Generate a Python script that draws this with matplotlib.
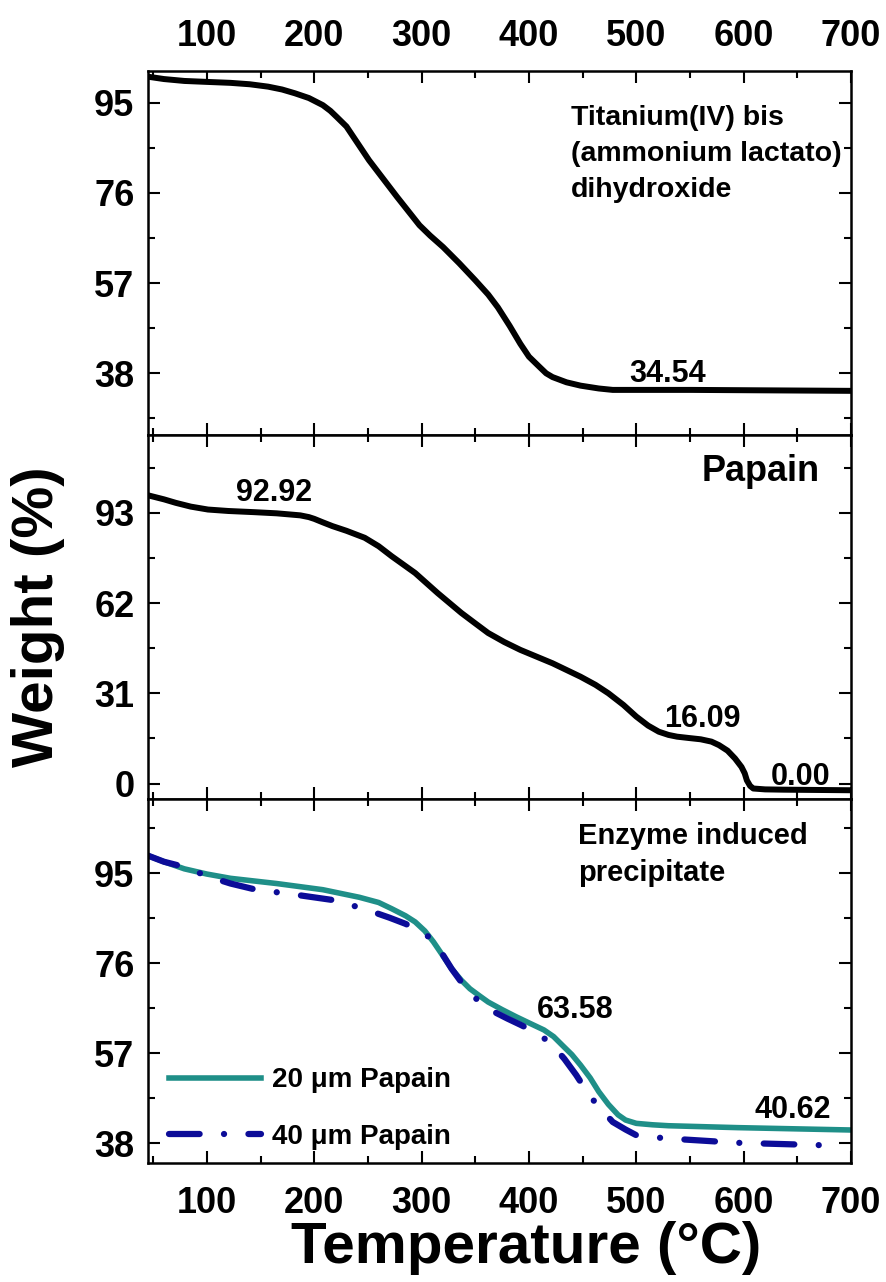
import matplotlib
matplotlib.use('Agg')
import matplotlib.pyplot as plt
from matplotlib.ticker import MultipleLocator, AutoMinorLocator

plt.rcParams['font.family'] = ['Liberation Sans', 'DejaVu Sans']
plt.rcParams['font.weight'] = 'bold'

# Titanium(IV) bis(ammonium lactato) dihydroxide
ti_temp = [45, 60, 79, 100, 122, 140, 157, 170, 182, 195, 208, 215, 221, 230, 251,
           277, 298, 308, 320, 335, 350, 362, 371, 382, 392, 400, 410, 416, 422,
           435, 448, 465, 478, 551, 700]
ti_weight = [100.5, 100.0, 99.6, 99.4, 99.2, 98.9, 98.4, 97.8, 97.0, 96.0, 94.5, 93.3,
             92.0, 90.0, 82.9, 75.2, 69.2, 67.0, 64.6, 61.2, 57.6, 54.6, 51.9, 48.0,
             44.2, 41.5, 39.3, 38.0, 37.2, 36.1, 35.4, 34.8, 34.5, 34.5, 34.3]

# Papain
pa_temp = [45, 60, 71, 85, 101, 120, 144, 165, 187, 195, 200, 208, 217, 230, 247,
           260, 272, 294, 315, 337, 350, 362, 377, 392, 422, 448, 462, 474, 488,
           500, 511, 521, 530, 538, 550, 560, 570, 577, 585, 592, 598, 601, 603,
           606, 609, 620, 637, 700]
pa_weight = [99.0, 97.6, 96.4, 95.1, 94.1, 93.6, 93.2, 92.8, 92.1, 91.5, 90.9, 89.7,
             88.4, 86.8, 84.4, 81.5, 78.1, 72.3, 65.4, 58.6, 55.0, 51.7, 48.6, 45.9,
             41.3, 36.7, 33.9, 31.0, 27.0, 23.0, 19.9, 17.8, 16.7, 16.1, 15.6, 15.2,
             14.4, 13.2, 11.3, 8.6, 5.7, 3.5, 1.1, -0.8, -1.7, -2.0, -2.1, -2.3]

# Enzyme induced precipitate
p20_temp = [45, 60, 79, 100, 122, 165, 208, 242, 260, 272, 285, 294, 303, 311, 320,
            328, 337, 345, 354, 362, 375, 388, 400, 414, 423, 431, 440, 448, 457,
            465, 474, 483, 490, 500, 515, 530, 594, 700]
p20_weight = [98.7, 97.4, 95.9, 94.8, 93.9, 92.8, 91.5, 89.9, 88.8, 87.5, 86.0, 84.7,
              82.8, 80.5, 77.5, 74.8, 72.4, 70.6, 69.1, 67.8, 66.2, 64.7, 63.4, 61.9,
              60.5, 58.7, 56.7, 54.5, 51.8, 48.9, 46.2, 44.0, 42.9, 42.2, 41.9, 41.7,
              41.3, 40.8]
p40_temp = [45, 60, 79, 101, 122, 144, 187, 221, 251, 270, 285, 297, 307, 314, 320,
            328, 337, 345, 354, 366, 380, 393, 405, 415, 422, 433, 444, 452, 461,
            470, 478, 490, 500, 515, 530, 594, 672]
p40_weight = [98.7, 97.4, 96.3, 94.3, 92.8, 91.6, 90.3, 89.2, 87.1, 85.6, 84.3, 83.0,
              81.5, 79.8, 77.7, 74.8, 72.0, 69.8, 67.8, 65.9, 64.3, 62.9, 61.5, 60.0,
              58.7, 55.8, 52.4, 49.6, 46.8, 44.5, 42.5, 40.9, 39.7, 39.3, 39.0, 38.1,
              37.6]

W, H = 887, 1282
fig, axs = plt.subplots(3, 1, figsize=(W / 100, H / 100), dpi=100, sharex=True)
fig.subplots_adjust(left=148.3 / W, right=851 / W, top=1 - 70.7 / H,
                    bottom=1 - 1162.7 / H, hspace=0)

ax1, ax2, ax3 = axs
ax1.plot(ti_temp, ti_weight, color='black', lw=4.3, solid_joinstyle='round')
ax2.plot(pa_temp, pa_weight, color='black', lw=4.3, solid_joinstyle='round')
ax3.plot(p20_temp, p20_weight, color='#1f8f88', lw=4.0, solid_joinstyle='round',
         label='20 μm Papain')
ax3.plot(p40_temp, p40_weight, color='#0c0c98', lw=4.5,
         linestyle=(0, (4.9, 3.9, 0.01, 3.9)), dash_capstyle='round',
         label='40 μm Papain')

ax1.set_ylim(25.06, 101.76)
ax1.set_yticks([38, 57, 76, 95])
ax2.set_ylim(-5.2, 119.8)
ax2.set_yticks([0, 31, 62, 93])
ax3.set_ylim(33.9, 110.7)
ax3.set_yticks([38, 57, 76, 95])
ax3.set_xlim(45.4, 700)
ax3.xaxis.set_major_locator(MultipleLocator(100))
ax3.xaxis.set_minor_locator(MultipleLocator(50))

for ax in axs:
    ax.yaxis.set_minor_locator(AutoMinorLocator(2))
    ax.tick_params(which='both', direction='in', top=True, right=True, width=1.5)
    ax.tick_params(which='major', length=8.6)
    ax.tick_params(which='minor', length=5)
    ax.tick_params(axis='y', labelsize=26, pad=10)
    ax.tick_params(axis='x', labelsize=26, pad=17, labelbottom=False)
    for sp in ax.spines.values():
        sp.set_linewidth(1.8)

ax1.tick_params(axis='x', labeltop=True, pad=12)
ax3.tick_params(axis='x', labelbottom=True)
for ax in axs:
    for lab in ax.get_xticklabels() + ax.get_yticklabels():
        lab.set_fontweight('bold')

# annotations
ax1.text(0.6015, 0.905, 'Titanium(IV) bis\n(ammonium lactato)\ndihydroxide',
         transform=ax1.transAxes, ha='left', va='top', fontsize=20.5,
         fontweight='bold', linespacing=1.5)
ax1.text(493.4, 36.1, '34.54', fontsize=22, fontweight='bold', va='baseline')

ax2.text(560.5, 103.9, 'Papain', fontsize=26, fontweight='bold', va='baseline')
ax2.text(127.1, 97.0, '92.92', fontsize=22, fontweight='bold', va='baseline')
ax2.text(525.5, 19.5, '16.09', fontsize=22, fontweight='bold', va='baseline')
ax2.text(625, -0.6, '0.00', fontsize=22, fontweight='bold', va='baseline')

ax3.text(0.611, 0.935, 'Enzyme induced\nprecipitate', transform=ax3.transAxes,
         ha='left', va='top', fontsize=21, fontweight='bold', linespacing=1.4)
ax3.text(407.7, 64.5, '63.58', fontsize=22, fontweight='bold', va='baseline')
ax3.text(610.4, 43.3, '40.62', fontsize=22, fontweight='bold', va='baseline')

ax3.legend(loc='lower left', bbox_to_anchor=(0.03, 0.035), frameon=False,
           prop={'size': 20, 'weight': 'bold'}, handlelength=3.3,
           handletextpad=0.4, labelspacing=1.1, borderpad=0, borderaxespad=0)

fig.text(38 / W, 1 - 617 / H, 'Weight (%)', rotation=90, ha='center',
         va='center', fontsize=42, fontweight='bold')
fig.text(526 / W, 1 - 1248 / H, 'Temperature (°C)', ha='center', va='center',
         fontsize=42, fontweight='bold')

plt.savefig('out.png', dpi=100)
